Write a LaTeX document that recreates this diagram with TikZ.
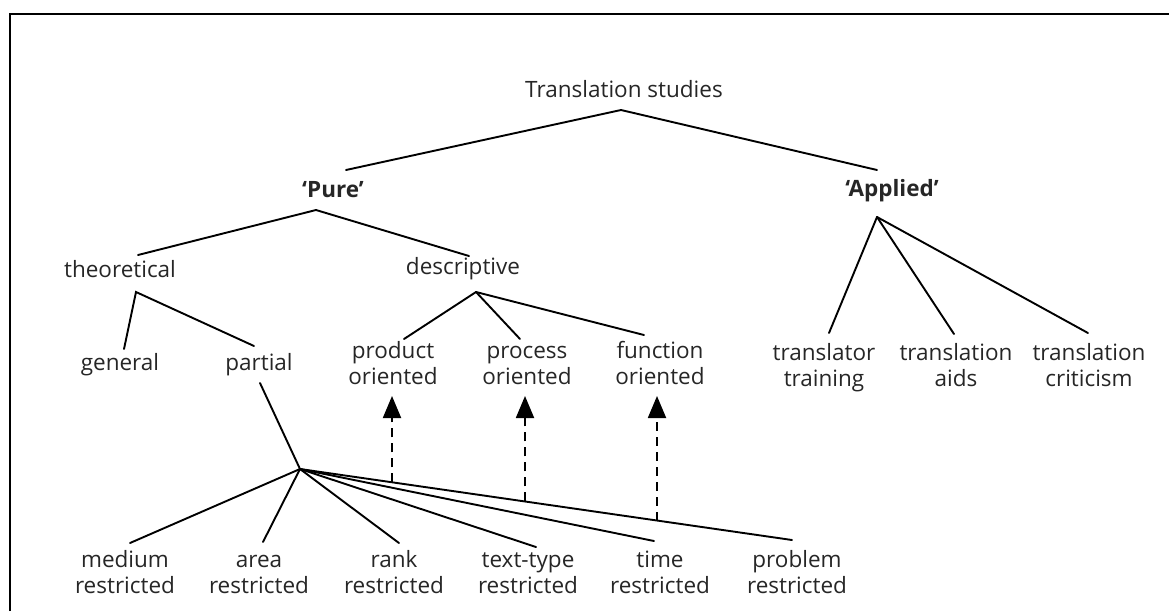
\documentclass[tikz,border=0pt]{standalone}
\usepackage{fontspec}
\setmainfont{Open Sans}[Ligatures=NoCommon]
\usetikzlibrary{arrows.meta,calc}
\newcommand\twoline[2]{#1\strut\\#2\strut}
\begin{document}
\begin{tikzpicture}[x=1pt,y=-1pt,
  lbl/.style={inner sep=0pt, align=center, text=black!85, font=\fontsize{22.5}{26}\selectfont},
  blbl/.style={lbl, font=\fontsize{22.5}{26}\selectfont\bfseries},
  edge/.style={line width=1.9pt, line cap=round},
  dep/.style={line width=1.9pt, dash pattern=on 9pt off 6pt, -{Triangle[width=18pt,length=22pt]}}]
\useasboundingbox (0,0) rectangle (1169,611);
\draw[line width=2pt] (10,611) -- (10,14) -- (1169,14);

% nodes
\node[lbl]  (ts)      at (624,89)  {Translation studies};
\node[blbl] (pure)    at (333,190) {‘Pure’};
\node[blbl] (applied) at (892,191) {‘Applied’};
\node[lbl]  (theo)    at (120,269) {theoretical};
\node[lbl]  (desc)    at (463,269) {descriptive};
\node[lbl]  (gen)     at (120,365) {general};
\node[lbl]  (part)    at (259,365) {partial};
\node[lbl]  (prod)    at (393,366) {\twoline{product}{oriented}};
\node[lbl]  (proc)    at (527,366) {\twoline{process}{oriented}};
\node[lbl]  (func)    at (660,366) {\twoline{function}{oriented}};
\node[lbl]  (ttrain)  at (824,368) {\twoline{translator}{training}};
\node[lbl]  (taids)   at (956,368) {\twoline{translation}{aids}};
\node[lbl]  (tcrit)   at (1089,368) {\twoline{translation}{criticism}};
\node[lbl]  (med)     at (125,575) {\twoline{medium}{restricted}};
\node[lbl]  (area)    at (259,575) {\twoline{area}{restricted}};
\node[lbl]  (rank)    at (394,575) {\twoline{rank}{restricted}};
\node[lbl]  (tt)      at (528,575) {\twoline{text-type}{restricted}};
\node[lbl]  (time)    at (660,575) {\twoline{time}{restricted}};
\node[lbl]  (prob)    at (797,575) {\twoline{problem}{restricted}};

% connector points
\coordinate (tsA)    at (621,110);
\coordinate (pureT)  at (346,170);
\coordinate (applT)  at (877,170);
\coordinate (pureA)  at (316,210);
\coordinate (theoT)  at (138,255);
\coordinate (descT)  at (469,256);
\coordinate (applA)  at (877,217);
\coordinate (trainT) at (829,333);
\coordinate (aidsT)  at (954,334);
\coordinate (critT)  at (1088,333);
\coordinate (theoA)  at (136,292);
\coordinate (genT)   at (124,349);
\coordinate (partT)  at (254,346);
\coordinate (descA)  at (476,292);
\coordinate (prodT)  at (404,339);
\coordinate (procT)  at (520,339);
\coordinate (funcT)  at (644,335);
\coordinate (partB)  at (260,383);
\coordinate (hub)    at (300,469);
\coordinate (medT)   at (130,543);
\coordinate (areaT)  at (263,542);
\coordinate (rankT)  at (399,543);
\coordinate (ttT)    at (536,547);
\coordinate (timeT)  at (654,541);
\coordinate (probT)  at (792,540);
\coordinate (prodB)  at (392,396);
\coordinate (procB)  at (525,396);
\coordinate (funcB)  at (657,396);

% tree edges
\draw[edge] (pureT) -- (tsA) -- (applT);
\draw[edge] (theoT) -- (pureA) -- (descT);
\draw[edge] (applA) -- (trainT);
\draw[edge] (applA) -- (aidsT);
\draw[edge] (applA) -- (critT);
\draw[edge] (genT) -- (theoA) -- (partT);
\draw[edge] (descA) -- (prodT);
\draw[edge] (descA) -- (procT);
\draw[edge] (descA) -- (funcT);
\draw[edge] (partB) -- (hub);
\foreach \t in {medT,areaT,rankT,ttT,timeT,probT}
  \draw[edge] (hub) -- (\t);

% dashed dependency arrows from the problem-restricted branch
\coordinate (d1) at ($(hub)!0.187!(probT)$);
\coordinate (d2) at ($(hub)!0.457!(probT)$);
\coordinate (d3) at ($(hub)!0.726!(probT)$);
\draw[dep] (prodB |- d1) -- (prodB);
\draw[dep] (procB |- d2) -- (procB);
\draw[dep] (funcB |- d3) -- (funcB);
\end{tikzpicture}
\end{document}
